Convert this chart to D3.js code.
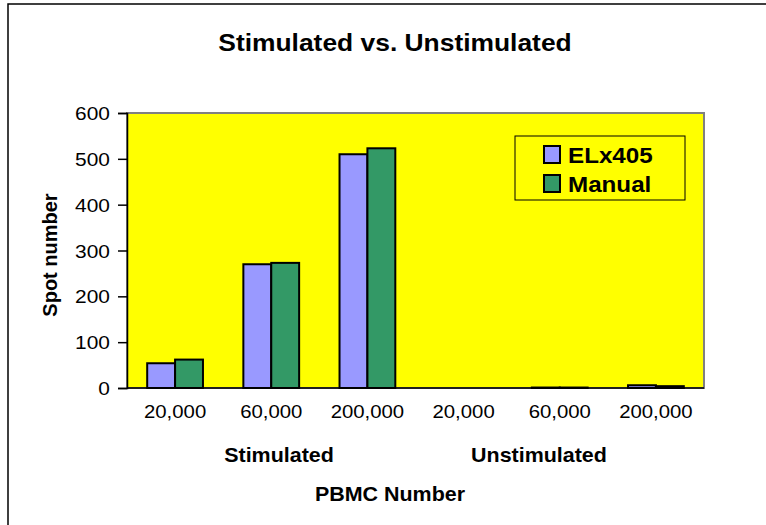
<!DOCTYPE html>
<html>
<head>
<meta charset="utf-8">
<script src="https://cdn.jsdelivr.net/npm/d3@7"></script>
<style>
  body { margin: 0; background: #fff; }
  svg { display: block; font-family: "Liberation Sans", Arial, sans-serif; }
</style>
</head>
<body>
<svg width="766" height="525"></svg>
<script>
// chart data
var categories = ["20,000", "60,000", "200,000", "20,000", "60,000", "200,000"];
var groups = ["Stimulated", "Unstimulated"];
var seriesNames = ["ELx405", "Manual"];
var elxValues = [54, 270, 510, 0, 1, 6];
var manualValues = [62, 273, 523, 0, 1, 4];
var yTicks = [0, 100, 200, 300, 400, 500, 600];
var colors = ["#9999FF", "#339966"];

var drawChart = function()
{
  var svg = d3.select("svg");
  var stretch = 1.1;   // the text in the picture is a bit wide

  var plotLeft = 127, plotRight = 704, plotTop = 113, plotBottom = 388;

  // outer frame (only top and left edges show)
  svg.append("path")
    .attr("d", "M8,530 L8,4 L770,4")
    .attr("fill", "none")
    .attr("stroke", "#000")
    .attr("stroke-width", 1.5);

  // plot area
  svg.append("rect")
    .attr("x", plotLeft).attr("y", plotTop)
    .attr("width", plotRight - plotLeft).attr("height", plotBottom - plotTop)
    .attr("fill", "#FFFF00")
    .attr("stroke", "#808080")
    .attr("stroke-width", 2);

  var idx = d3.range(categories.length);
  var x0 = d3.scaleBand().domain(idx).range([plotLeft, plotRight]).paddingInner(0.42).paddingOuter(0.21);
  var x1 = d3.scaleBand().domain([0, 1]).range([0, x0.bandwidth()]);
  var y = d3.scaleLinear().domain([0, 600]).range([plotBottom, plotTop]);

  var rows = idx.map(function(i) { return [elxValues[i], manualValues[i]]; });

  var g = svg.selectAll("g.grp")
    .data(rows)
    .enter()
    .append("g")
    .attr("class", "grp")
    .attr("transform", function(d, i) { return "translate(" + x0(i) + ",0)"; });

  g.selectAll("rect")
    .data(function(d) { return d; })
    .enter()
    .append("rect")
    .attr("x", function(d, j) { return x1(j); })
    .attr("y", function(d) { return y(d); })
    .attr("width", x1.bandwidth())
    .attr("height", function(d) { return plotBottom - y(d); })
    .attr("fill", function(d, j) { return colors[j]; })
    .attr("stroke", "#000")
    .attr("stroke-width", function(d) { return d > 0 ? 2 : 0; });

  // y axis
  var yAxis = svg.append("g")
    .attr("transform", "translate(" + plotLeft + ",0)")
    .call(d3.axisLeft(y).tickValues(yTicks).tickSize(9).tickPadding(0).tickFormat(""));
  yAxis.select(".domain").attr("stroke", "#000").attr("stroke-width", 1.5);
  yAxis.selectAll(".tick line").attr("stroke", "#000").attr("stroke-width", 1.5);

  var wideText = function(sel, x, yy, anchor)
  {
    return sel.append("g")
      .attr("transform", "translate(" + x + "," + yy + ") scale(" + stretch + ",1)")
      .append("text")
      .attr("text-anchor", anchor);
  };

  yTicks.forEach(function(t) {
    wideText(svg, 110, y(t) + 7, "end")
      .attr("font-size", 19)
      .text(t);
  });

  // x axis line
  svg.append("line")
    .attr("x1", plotLeft).attr("x2", plotRight)
    .attr("y1", plotBottom).attr("y2", plotBottom)
    .attr("stroke", "#000").attr("stroke-width", 1.5);

  categories.forEach(function(c, i) {
    wideText(svg, x0(i) + x0.bandwidth() / 2, 418, "middle")
      .attr("font-size", 18.5)
      .text(c);
  });

  // group labels
  var groupX = [279, 539];
  groups.forEach(function(gname, i) {
    wideText(svg, groupX[i], 462, "middle")
      .attr("font-size", 19.5)
      .attr("font-weight", "bold")
      .text(gname);
  });

  wideText(svg, 390, 501, "middle")
    .attr("font-size", 19.5)
    .attr("font-weight", "bold")
    .text("PBMC Number");

  // title
  wideText(svg, 395, 51, "middle")
    .attr("font-size", 24)
    .attr("font-weight", "bold")
    .text("Stimulated vs. Unstimulated");

  // y axis title
  svg.append("text")
    .attr("transform", "translate(57,255) rotate(-90)")
    .attr("text-anchor", "middle")
    .attr("font-size", 20)
    .attr("font-weight", "bold")
    .text("Spot number");

  // legend
  var legend = svg.append("g").attr("transform", "translate(515,136)");
  legend.append("rect")
    .attr("width", 170).attr("height", 64)
    .attr("fill", "#FFFF00")
    .attr("stroke", "#000")
    .attr("stroke-width", 1);

  seriesNames.forEach(function(s, i) {
    legend.append("rect")
      .attr("x", 29).attr("y", 10 + i * 29)
      .attr("width", 16).attr("height", 17)
      .attr("fill", colors[i])
      .attr("stroke", "#000")
      .attr("stroke-width", 2);
    wideText(legend, 53, 27 + i * 29, "start")
      .attr("font-size", 22)
      .attr("font-weight", "bold")
      .text(s);
  });
};

drawChart();
</script>
</body>
</html>
